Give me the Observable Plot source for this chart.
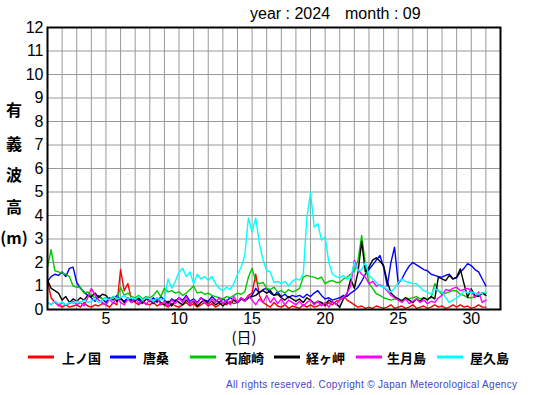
<!DOCTYPE html>
<html><head><meta charset="utf-8">
<script src="https://cdn.jsdelivr.net/npm/d3@7"></script>
<script src="https://cdn.jsdelivr.net/npm/@observablehq/plot@0.6"></script>
<style>body{margin:0;background:#fff}#chart{width:555px;height:395px}</style>
</head><body><div id="chart"></div>
<script>
const stations = ["上ノ国","唐桑","石廊崎","経ヶ岬","生月島","屋久島"];
const colors = ["#ff0000","#0000ff","#00c800","#000000","#ff00ff","#00ffff"];
const stepsPerDay = 4; // values every 6 hours, from Sept 1 00:00 to Oct 1 00:00
const xTicks = [5,10,15,20,25,30];
const yTicks = [0,1,2,3,4,5,6,7,8,9,10,11,12];
const dayGrid = [1,2,3,4,5,6,7,8,9,10,11,12,13,14,15,16,17,18,19,20,21,22,23,24,25,26,27,28,29,30,31,32];

const kaminokuni = [
1.2,0.5,0.3,0.2, 0.1,0.2,0.1,0.15, 0.2,0.1,0.3,0.15, 0.1,0.2,0.15,0.25, 0.2,0.1,0.3,0.2,
1.7,0.8,1.1,0.4, 0.3,0.2,0.35,0.25, 0.2,0.3,0.15,0.25, 0.2,0.1,0.25,0.15, 0.1,0.2,0.3,0.15,
0.25,0.1,0.2,0.3, 0.15,0.25,0.1,0.2, 0.3,0.2,0.35,0.25, 0.3,0.5,0.4,0.6, 0.7,1.5,0.6,0.3,
0.2,0.1,0.3,0.15, 0.1,0.2,0.05,0.15, 0.1,0.05,0.2,0.1, 0.2,0.1,0.15,0.25, 0.15,0.3,0.2,0.35,
0.4,0.6,0.4,0.3, 0.2,0.1,0.15,0.05, 0.1,0.05,0.15,0.1, 0.05,0.1,0.2,0.05, 0.1,0.15,0.05,0.1,
0.2,0.05,0.1,0.15, 0.05,0.1,0.2,0.1, 0.15,0.05,0.1,0.2, 0.1,0.2,0.1,0.15, 0.05,0.1,0.2,0.1,
0.1];
const karakuwa = [
1.2,1.4,1.5,1.45, 1.6,1.4,1.75,1.8, 1.15,0.9,0.75,0.6, 0.5,0.35,0.6,0.45, 0.3,0.5,0.4,0.6,
0.45,0.35,0.5,0.3, 0.5,0.4,0.25,0.45, 0.35,0.5,0.3,0.55, 0.4,0.25,0.45,0.35, 0.5,0.4,0.6,0.35,
0.45,0.3,0.5,0.4, 0.35,0.55,0.4,0.3, 0.45,0.35,0.5,0.4, 0.3,0.45,0.4,0.5, 0.6,0.9,0.7,0.85,
0.9,0.7,0.6,0.75, 0.55,0.65,0.5,0.6, 0.55,0.6,0.5,0.65, 0.55,0.7,0.8,0.6, 0.45,0.5,0.4,0.45,
0.5,0.6,0.55,0.7, 0.8,0.95,1.2,1.5, 1.7,1.9,2.1,2.3, 1.8,1.0,2.0,2.65, 1.1,1.3,1.6,1.85,
2.0,1.9,1.8,1.7, 1.65,1.5,1.45,1.4, 1.38,1.45,1.5,1.3, 1.35,1.6,1.75,1.95, 1.87,1.7,1.6,1.3,
1.0];
const irozaki = [
1.8,2.55,1.65,1.6, 1.55,1.5,1.4,1.0, 0.95,0.95,0.7,0.75, 0.6,0.5,0.55,0.45, 0.5,0.4,0.55,0.45,
0.95,0.6,0.7,0.55, 0.5,0.6,0.45,0.55, 0.5,0.6,0.8,0.55, 0.9,0.75,0.8,0.7, 0.75,0.6,0.7,0.85,
1.0,0.7,0.75,0.65, 0.7,0.6,0.55,0.5, 0.45,0.55,0.5,0.6, 0.7,0.65,0.75,1.38, 1.75,1.2,1.1,1.15,
0.9,0.85,0.95,0.75, 0.8,0.7,0.85,0.75, 0.8,0.9,1.38,1.45, 1.4,1.38,1.3,1.38, 1.1,1.2,1.23,1.15,
1.15,1.3,1.38,1.5, 1.65,2.1,3.15,1.95, 1.1,0.9,0.67,0.6, 0.5,0.45,0.4,0.45, 0.45,0.4,0.5,0.45,
0.5,0.55,0.45,0.5, 0.45,0.5,1.1,0.8, 0.65,0.7,0.75,0.8, 0.8,0.65,0.6,0.5, 0.5,0.55,0.6,0.7,
0.7];
const kyogamisaki = [
1.25,0.9,0.8,0.7, 0.4,0.55,0.3,0.45, 0.35,0.5,0.4,0.6, 0.55,0.7,0.5,0.65, 0.6,0.4,0.55,0.35,
0.5,0.3,0.45,0.4, 0.35,0.5,0.3,0.45, 0.4,0.25,0.45,0.3, 0.2,0.35,0.15,0.4, 0.3,0.2,0.4,0.25,
0.35,0.15,0.3,0.4, 0.25,0.35,0.2,0.3, 0.15,0.3,0.25,0.4, 0.3,0.45,0.35,0.5, 0.55,0.6,0.75,0.8,
0.7,0.8,0.6,0.65, 0.5,0.4,0.55,0.45, 0.35,0.45,0.3,0.5, 0.4,0.25,0.35,0.3, 0.2,0.4,0.3,0.25,
0.1,0.45,0.67,1.3, 0.9,1.6,2.9,1.6, 1.8,2.1,2.2,2.05, 1.87,1.2,0.7,0.55, 0.45,0.35,0.5,0.4,
0.3,0.45,0.35,0.5, 0.4,0.55,0.45,1.38, 1.3,1.23,1.45,1.3, 1.38,1.73,1.1,0.52, 0.88,0.6,0.55,0.7,
0.6];
const ikitsukishima = [
0.3,0.2,0.35,0.15, 0.3,0.2,0.25,0.35, 0.2,0.3,0.15,0.5, 0.9,0.6,0.4,0.3, 0.2,0.45,0.25,0.5,
0.3,0.2,0.45,0.3, 0.5,0.25,0.4,0.2, 0.45,0.3,0.5,0.2, 0.35,0.15,0.4,0.25, 0.5,0.3,0.55,0.2,
0.4,0.25,0.5,0.3, 0.2,0.45,0.3,0.5, 0.25,0.4,0.2,0.55, 0.3,0.5,0.35,0.6, 0.4,0.2,0.45,0.3,
0.6,0.3,0.5,0.25, 0.45,0.2,0.4,0.3, 0.2,0.35,0.15,0.3, 0.4,0.2,0.35,0.15, 0.3,0.1,0.35,0.2,
0.4,0.5,0.7,1.0, 2.1,1.7,1.5,1.38, 1.1,1.2,1.0,1.05, 0.95,0.8,0.6,0.5, 0.4,0.3,0.45,0.25,
0.35,0.45,0.3,0.4, 0.25,0.35,0.3,0.5, 0.6,0.85,0.8,0.9, 0.95,0.8,0.85,0.9, 0.8,0.5,0.75,0.3,
0.4];
const yakushima = [
0.3,0.2,0.35,0.25, 0.3,0.2,0.3,0.25, 0.35,0.3,0.4,0.3, 0.35,0.45,0.3,0.4, 0.5,0.4,0.55,0.45,
0.5,0.6,0.45,0.5, 0.45,0.55,0.4,0.5, 0.45,0.35,0.5,0.4, 0.45,1.3,0.9,1.2, 1.6,1.75,1.4,1.6,
1.1,1.5,1.3,1.4, 1.25,1.4,1.1,0.9, 0.8,0.95,0.85,1.1, 1.5,1.8,2.3,3.9, 3.3,3.9,2.8,2.1,
1.65,1.6,1.15,1.2, 1.1,1.2,1.0,1.2, 1.3,1.25,1.5,3.9, 5.0,3.5,3.65,2.95, 3.1,2.0,1.5,1.4,
1.35,1.45,1.3,1.35, 2.0,1.65,1.7,2.0, 1.45,1.3,1.15,1.0, 0.95,0.85,0.75,0.9, 1.15,1.3,1.2,1.15,
1.1,1.1,0.95,0.8, 0.75,0.65,0.9,0.8, 0.75,0.5,0.3,0.4, 0.5,0.6,0.8,0.7, 0.75,0.7,0.65,0.7,
0.75];

const series = [kaminokuni, karakuwa, irozaki, kyogamisaki, ikitsukishima, yakushima];
const rows = series.flatMap((vals, s) => vals.map((v, i) => ({station: stations[s], day: 1 + i / stepsPerDay, h: v})));

const plot = Plot.plot({
  width: 555, height: 395,
  marginTop: 27, marginLeft: 47, marginRight: 55, marginBottom: 86,
  style: {fontFamily: "'Liberation Sans', Arial, sans-serif", fontSize: "16px", background: "#fff", color: "#000"},
  x: {domain: [1, 32], label: null},
  y: {domain: [0, 12], label: null},
  color: {domain: stations, range: colors},
  marks: [
    Plot.gridX(dayGrid, {stroke: "#999", strokeOpacity: 1}),
    Plot.gridY(yTicks, {stroke: "#999", strokeOpacity: 1}),
    Plot.lineY(rows, {x: "day", y: "h", z: "station", stroke: "station", strokeWidth: 1.4}),
    Plot.frame({stroke: "#000", strokeWidth: 2}),
    Plot.axisX({ticks: xTicks, tickSize: 0, tickPadding: 3, label: null, fontSize: 16}),
    Plot.axisY({ticks: yTicks, tickSize: 0, tickPadding: 4, label: null, fontSize: 16})
  ]
});
document.getElementById("chart").append(plot);

const svg = d3.select(plot);
const cjk = "'Noto Sans CJK JP', sans-serif";
const latin = "'Liberation Sans', Arial, sans-serif";
svg.append("text").attr("x", 250).attr("y", 19).attr("text-anchor", "start").attr("font-size", 16).attr("font-family", latin).text("year : 2024");
svg.append("text").attr("x", 345).attr("y", 19).attr("text-anchor", "start").attr("font-size", 16).attr("font-family", latin).text("month : 09");

const yTitle = ["有","義","波","高","(m)"];
const yTitlePos = [110, 144, 175, 207, 238];
yTitle.forEach((t, i) => {
  svg.append("text").attr("x", 14).attr("y", yTitlePos[i]).attr("dy", "0.36em").attr("text-anchor", "middle")
    .attr("font-size", 16).attr("font-family", cjk).attr("font-weight", "bold").text(t);
});
svg.append("text").attr("x", 244).attr("y", 338).attr("dy", "0.36em").attr("text-anchor", "middle")
  .attr("font-size", 15).attr("font-family", cjk).text("(日)");

const legendLineX = [28, 110, 190, 274, 356, 437];
const legendTextX = [62, 143, 225, 306, 387, 470];
stations.forEach((s, i) => {
  svg.append("line").attr("x1", legendLineX[i]).attr("x2", legendLineX[i] + 26).attr("y1", 357).attr("y2", 357)
    .attr("stroke", colors[i]).attr("stroke-width", 3);
  svg.append("text").attr("x", legendTextX[i]).attr("y", 358).attr("dy", "0.36em").attr("text-anchor", "start")
    .attr("font-size", 13).attr("font-weight", "bold").attr("font-family", cjk).text(s);
});
svg.append("text").attr("x", 226).attr("y", 388).attr("text-anchor", "start").attr("font-size", 10).attr("fill", "#4444cc")
  .attr("font-family", latin).attr("textLength", 291).attr("lengthAdjust", "spacing")
  .text("All rights reserved. Copyright © Japan Meteorological Agency");
</script></body></html>
